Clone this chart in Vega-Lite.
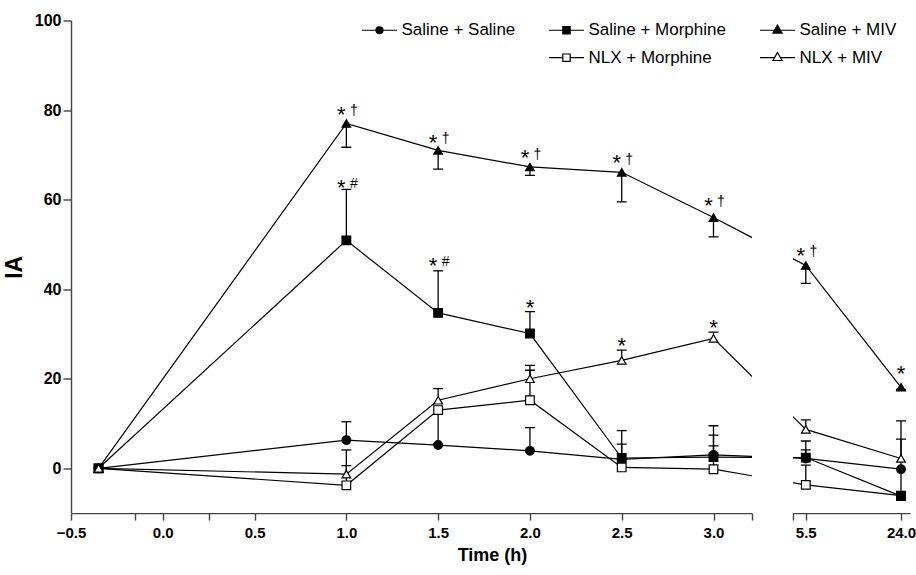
{
  "$schema": "https://vega.github.io/schema/vega-lite/v6.json",
  "background": "white",
  "padding": {"left": 3, "top": 11.5, "right": 0, "bottom": 5},
  "bounds": "flush",
  "spacing": 41,
  "config": {"view": {"stroke": null}, "font": "Liberation Sans"},
  "datasets": {
    "pts": [
      {"g": "Saline + Saline", "t": -0.35, "v": 0},
      {"g": "Saline + Saline", "t": 1, "v": 6.3, "e": 10.4},
      {"g": "Saline + Saline", "t": 1.5, "v": 5.2},
      {"g": "Saline + Saline", "t": 2, "v": 3.9, "e": 9.1},
      {"g": "Saline + Saline", "t": 2.5, "v": 2.0, "e": 5.4},
      {"g": "Saline + Saline", "t": 3, "v": 3.0, "e": 9.5},
      {"g": "Saline + Saline", "t": 5.5, "v": 2.2, "e": 6.1},
      {"g": "Saline + Saline", "t": 24, "v": -0.2},
      {"g": "NLX + Morphine", "t": -0.35, "v": 0},
      {"g": "NLX + Morphine", "t": 1, "v": -3.8, "e": 0.6},
      {"g": "NLX + Morphine", "t": 1.5, "v": 13.0, "e": 5.5},
      {"g": "NLX + Morphine", "t": 2, "v": 15.2, "e": 21.9},
      {"g": "NLX + Morphine", "t": 2.5, "v": 0.2},
      {"g": "NLX + Morphine", "t": 3, "v": -0.2, "e": 5.0},
      {"g": "NLX + Morphine", "t": 5.5, "v": -3.7, "e": 0.7},
      {"g": "NLX + Morphine", "t": 24, "v": -6.1},
      {"g": "Saline + Morphine", "t": -0.35, "v": 0},
      {"g": "Saline + Morphine", "t": 1, "v": 50.9, "e": 62.3},
      {"g": "Saline + Morphine", "t": 1.5, "v": 34.7, "e": 44.1},
      {"g": "Saline + Morphine", "t": 2, "v": 30.1, "e": 35.0},
      {"g": "Saline + Morphine", "t": 2.5, "v": 2.3, "e": 8.4},
      {"g": "Saline + Morphine", "t": 3, "v": 2.5, "e": 7.4},
      {"g": "Saline + Morphine", "t": 5.5, "v": 2.4, "e": 4.1},
      {"g": "Saline + Morphine", "t": 24, "v": -6.2, "e": 6.5},
      {"g": "Saline + MIV", "t": -0.35, "v": 0},
      {"g": "Saline + MIV", "t": 1, "v": 77.0, "e": 71.7},
      {"g": "Saline + MIV", "t": 1.5, "v": 71.0, "e": 66.8},
      {"g": "Saline + MIV", "t": 2, "v": 67.3, "e": 65.4},
      {"g": "Saline + MIV", "t": 2.5, "v": 66.1, "e": 59.5},
      {"g": "Saline + MIV", "t": 3, "v": 56.0, "e": 51.7},
      {"g": "Saline + MIV", "t": 5.5, "v": 45.3, "e": 41.3},
      {"g": "Saline + MIV", "t": 24, "v": 18.1, "e": 17.6},
      {"g": "NLX + MIV", "t": -0.35, "v": 0},
      {"g": "NLX + MIV", "t": 1, "v": -1.3, "e": 4.1},
      {"g": "NLX + MIV", "t": 1.5, "v": 15.2, "e": 17.8},
      {"g": "NLX + MIV", "t": 2, "v": 20.0, "e": 23.0},
      {"g": "NLX + MIV", "t": 2.5, "v": 24.1, "e": 26.4},
      {"g": "NLX + MIV", "t": 3, "v": 29.0, "e": 30.4},
      {"g": "NLX + MIV", "t": 5.5, "v": 8.7, "e": 10.8},
      {"g": "NLX + MIV", "t": 24, "v": 2.2, "e": 10.6}
    ],
    "ann": [
      {"t": 1, "y": 80.1, "a": "*", "b": "†"},
      {"t": 1.5, "y": 73.8, "a": "*", "b": "†"},
      {"t": 2, "y": 70.4, "a": "*", "b": "†"},
      {"t": 2.5, "y": 69.2, "a": "*", "b": "†"},
      {"t": 3, "y": 59.8, "a": "*", "b": "†"},
      {"t": 5.5, "y": 48.6, "a": "*", "b": "†"},
      {"t": 24, "y": 22.1, "a": "*", "b": ""},
      {"t": 1, "y": 63.8, "a": "*", "b": "#"},
      {"t": 1.5, "y": 46.3, "a": "*", "b": "#"},
      {"t": 2, "y": 36.9, "a": "*", "b": ""},
      {"t": 2.5, "y": 28.4, "a": "*", "b": ""},
      {"t": 3, "y": 32.4, "a": "*", "b": ""}
    ]
  },
  "resolve": {"scale": {"x": "independent", "y": "independent", "shape": "independent", "fill": "independent"}, "legend": {"shape": "independent", "fill": "independent"}},
  "hconcat": [
    {
      "width": 681,
      "height": 492.6,
      "resolve": {"scale": {"shape": "independent"}, "legend": {"shape": "independent"}},
      "encoding": {
        "x": {"field": "t", "type": "quantitative",
          "scale": {"domain": [-0.5, 3.0, 4.043], "range": [0, 642.5, 681], "nice": false, "zero": false},
          "axis": {"values": [-0.5, -0.15, 0, 0.25, 0.5, 1, 1.5, 2, 2.5, 3, 4.043],
            "labelExpr": "indexof([-0.15, 0.25, 4.043], datum.value) >= 0 ? '' : format(datum.value, '.1f')",
            "labelOverlap": false, "labelFlush": false, "grid": false,
            "title": "Time (h)", "titleX": 421, "titleFontSize": 18, "titleFontWeight": "bold", "titleColor": "black", "titlePadding": 6,
            "labelFontSize": 15, "labelFontWeight": "bold", "labelColor": "black", "labelPadding": 5,
            "tickSize": 7, "tickColor": "#444", "tickWidth": 1.4, "domainColor": "#444", "domainWidth": 1.4}
        }
      },
      "layer": [
        {
          "data": {"name": "pts"},
          "transform": [{"filter": "isValid(datum.e)"}],
          "mark": {"type": "rule", "color": "black", "strokeWidth": 1.3, "clip": true},
          "encoding": {
            "y": {"field": "v", "type": "quantitative", "scale": {"domain": [-10, 100], "nice": false, "zero": false},
              "axis": {"values": [0, 20, 40, 60, 80, 100], "title": "IA", "titleFontSize": 23, "titleFontWeight": "bold", "titleColor": "black", "titlePadding": 8,
                "labelFontSize": 16, "labelFontWeight": "bold", "labelColor": "black", "labelPadding": 2, "grid": false,
                "tickSize": 8, "tickColor": "#444", "tickWidth": 1.4, "domainColor": "#444", "domainWidth": 1.4}},
            "y2": {"field": "e"}
          }
        },
        {
          "data": {"name": "pts"},
          "transform": [{"filter": "isValid(datum.e)"}],
          "mark": {"type": "tick", "orient": "horizontal", "size": 10, "thickness": 1.3, "color": "black", "opacity": 1, "clip": true},
          "encoding": {"y": {"field": "e", "type": "quantitative"}}
        },
        {
          "data": {"name": "pts"},
          "mark": {"type": "line", "color": "black", "strokeWidth": 1.2, "clip": true},
          "encoding": {"y": {"field": "v", "type": "quantitative"}, "detail": {"field": "g"}}
        },
        {
          "data": {"name": "pts"},
          "mark": {"type": "point", "filled": true, "stroke": "black", "strokeWidth": 1.2, "opacity": 1, "size": 75, "clip": true},
          "encoding": {
            "y": {"field": "v", "type": "quantitative"},
            "shape": {"field": "g", "type": "nominal",
              "scale": {"domain": ["Saline + Saline", "Saline + Morphine", "Saline + MIV", " ", "NLX + Morphine", "NLX + MIV"], "range": ["circle", "square", "triangle-up", "circle", "square", "triangle-up"]},
              "legend": null},
            "fill": {"field": "g", "type": "nominal",
              "scale": {"domain": ["Saline + Saline", "Saline + Morphine", "Saline + MIV", " ", "NLX + Morphine", "NLX + MIV"], "range": ["black", "black", "black", "white", "white", "white"]},
              "legend": null}
          }
        },
        {
          "data": {"name": "pts"},
          "transform": [{"filter": "datum.t > 1000"}],
          "mark": {"type": "point", "filled": false, "color": "black", "strokeWidth": 1.2, "opacity": 1, "clip": true},
          "encoding": {
            "y": {"field": "v", "type": "quantitative"},
            "shape": {"field": "g", "type": "nominal",
              "scale": {"domain": ["Saline + Saline", "Saline + Morphine", "Saline + MIV", " ", "NLX + Morphine", "NLX + MIV"],
                "range": [
                  "M-1,0H1M0.2,0A0.2,0.2,0,1,1,-0.2,0A0.2,0.2,0,1,1,0.2,0M0.15,0A0.15,0.15,0,1,1,-0.15,0A0.15,0.15,0,1,1,0.15,0M0.1,0A0.1,0.1,0,1,1,-0.1,0A0.1,0.1,0,1,1,0.1,0M0.05,0A0.05,0.05,0,1,1,-0.05,0A0.05,0.05,0,1,1,0.05,0",
                  "M-1,0H1M-0.21,-0.21H0.21V0.21H-0.21ZM-0.16,-0.16H0.16V0.16H-0.16ZM-0.11,-0.11H0.11V0.11H-0.11ZM-0.06,-0.06H0.06V0.06H-0.06ZM-0.02,-0.02H0.02V0.02H-0.02Z",
                  "M-1,0H1M0,-0.3L0.26,0.16L-0.26,0.16ZM0,-0.225L0.195,0.12L-0.195,0.12ZM0,-0.15L0.13,0.08L-0.13,0.08ZM0,-0.075L0.065,0.04L-0.065,0.04ZM0,-0.02L0.02,0.01L-0.02,0.01Z",
                  "M0,0",
                  "M-1,0H-0.21M0.21,0H1M-0.21,-0.21H0.21V0.21H-0.21Z",
                  "M-1,0H-0.17M0.17,0H1M0,-0.3L0.26,0.16L-0.26,0.16Z"
                ]},
              "legend": {"orient": "none", "legendX": 290, "legendY": -9, "columns": 3, "direction": "horizontal", "title": null,
                "values": ["Saline + Saline", "Saline + Morphine", "Saline + MIV", " ", "NLX + Morphine", "NLX + MIV"],
                "symbolSize": 1225, "symbolStrokeWidth": 1.2, "symbolStrokeColor": "black", "symbolOpacity": 1,
                "labelFontSize": 17, "labelColor": "black", "labelOffset": 3.5, "columnPadding": 30, "rowPadding": 0.7}
            }
          }
        },
        {
          "data": {"name": "ann"},
          "transform": [{"filter": "datum.t < 4 && datum.b != ''"}],
          "mark": {"type": "text", "fontSize": 22, "baseline": "alphabetic", "align": "center", "dx": -5, "dy": 12, "color": "black", "clip": true},
          "encoding": {"y": {"field": "y", "type": "quantitative"}, "text": {"field": "a"}}
        },
        {
          "data": {"name": "ann"},
          "transform": [{"filter": "datum.t < 4 && datum.b == ''"}],
          "mark": {"type": "text", "fontSize": 22, "baseline": "alphabetic", "align": "center", "dx": 0, "dy": 12, "color": "black", "clip": true},
          "encoding": {"y": {"field": "y", "type": "quantitative"}, "text": {"field": "a"}}
        },
        {
          "data": {"name": "ann"},
          "transform": [{"filter": "datum.t < 4 && datum.b != ''"}],
          "mark": {"type": "text", "fontSize": 14, "baseline": "alphabetic", "align": "center", "dx": 7.5, "dy": 5.5, "color": "black", "clip": true},
          "encoding": {"y": {"field": "y", "type": "quantitative"}, "text": {"field": "b"}}
        }
      ]
    },
    {
      "width": 117,
      "height": 492.6,
      "encoding": {
        "x": {"field": "t", "type": "quantitative",
          "scale": {"domain": [5.153, 5.5, 24, 25.75], "range": [0, 12.8, 108, 117], "nice": false, "zero": false},
          "axis": {"values": [5.153, 5.5, 24],
            "labelExpr": "datum.value < 5.2 ? '' : format(datum.value, '.1f')",
            "labelOverlap": false, "labelFlush": false, "grid": false, "title": null,
            "labelFontSize": 15, "labelFontWeight": "bold", "labelColor": "black", "labelPadding": 5,
            "tickSize": 7, "tickColor": "#444", "tickWidth": 1.4, "domainColor": "#444", "domainWidth": 1.4}
        }
      },
      "layer": [
        {
          "data": {"name": "pts"},
          "transform": [{"filter": "isValid(datum.e)"}],
          "mark": {"type": "rule", "color": "black", "strokeWidth": 1.3, "clip": true},
          "encoding": {
            "y": {"field": "v", "type": "quantitative", "scale": {"domain": [-10, 100], "nice": false, "zero": false}, "axis": null},
            "y2": {"field": "e"}
          }
        },
        {
          "data": {"name": "pts"},
          "transform": [{"filter": "isValid(datum.e)"}],
          "mark": {"type": "tick", "orient": "horizontal", "size": 10, "thickness": 1.3, "color": "black", "opacity": 1, "clip": true},
          "encoding": {"y": {"field": "e", "type": "quantitative"}}
        },
        {
          "data": {"name": "pts"},
          "mark": {"type": "line", "color": "black", "strokeWidth": 1.2, "clip": true},
          "encoding": {"y": {"field": "v", "type": "quantitative"}, "detail": {"field": "g"}}
        },
        {
          "data": {"name": "pts"},
          "mark": {"type": "point", "filled": true, "stroke": "black", "strokeWidth": 1.2, "opacity": 1, "size": 75, "clip": true},
          "encoding": {
            "y": {"field": "v", "type": "quantitative"},
            "shape": {"field": "g", "type": "nominal",
              "scale": {"domain": ["Saline + Saline", "Saline + Morphine", "Saline + MIV", " ", "NLX + Morphine", "NLX + MIV"], "range": ["circle", "square", "triangle-up", "circle", "square", "triangle-up"]},
              "legend": null},
            "fill": {"field": "g", "type": "nominal",
              "scale": {"domain": ["Saline + Saline", "Saline + Morphine", "Saline + MIV", " ", "NLX + Morphine", "NLX + MIV"], "range": ["black", "black", "black", "white", "white", "white"]},
              "legend": null}
          }
        },
        {
          "data": {"name": "ann"},
          "transform": [{"filter": "datum.t > 5 && datum.b != ''"}],
          "mark": {"type": "text", "fontSize": 22, "baseline": "alphabetic", "align": "center", "dx": -5, "dy": 12, "color": "black"},
          "encoding": {"y": {"field": "y", "type": "quantitative"}, "text": {"field": "a"}}
        },
        {
          "data": {"name": "ann"},
          "transform": [{"filter": "datum.t > 5 && datum.b == ''"}],
          "mark": {"type": "text", "fontSize": 22, "baseline": "alphabetic", "align": "center", "dx": 0, "dy": 12, "color": "black"},
          "encoding": {"y": {"field": "y", "type": "quantitative"}, "text": {"field": "a"}}
        },
        {
          "data": {"name": "ann"},
          "transform": [{"filter": "datum.t > 5 && datum.b != ''"}],
          "mark": {"type": "text", "fontSize": 14, "baseline": "alphabetic", "align": "center", "dx": 7.5, "dy": 5.5, "color": "black"},
          "encoding": {"y": {"field": "y", "type": "quantitative"}, "text": {"field": "b"}}
        }
      ]
    }
  ]
}
